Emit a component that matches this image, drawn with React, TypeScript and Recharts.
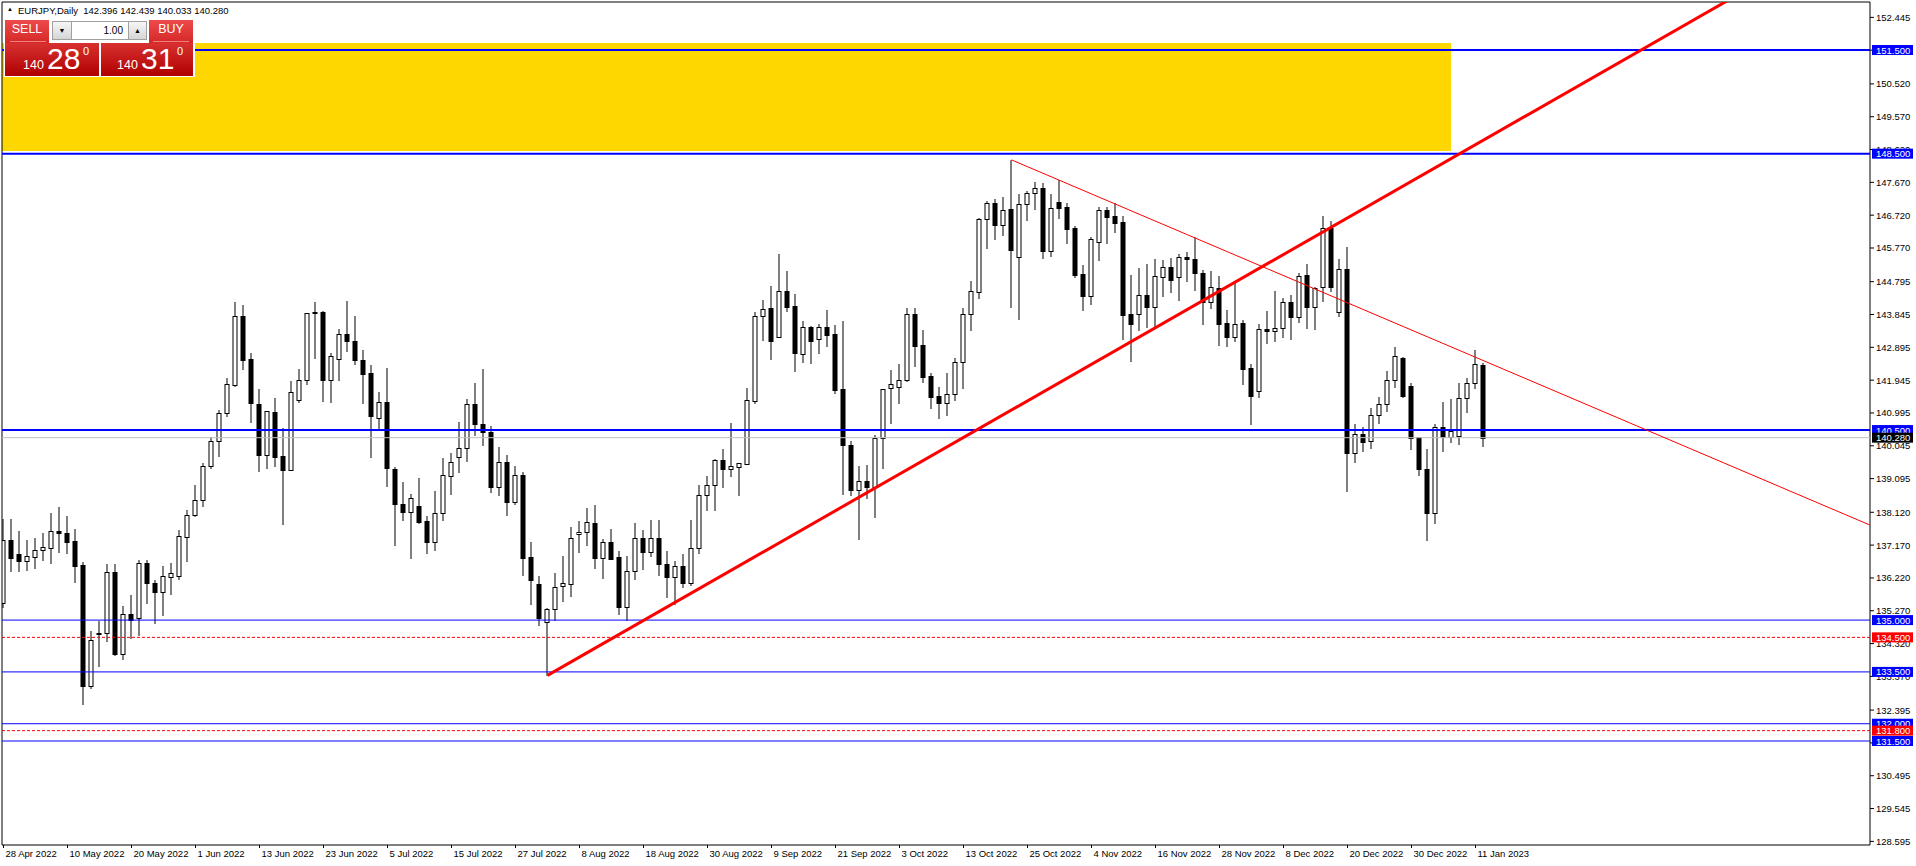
import React from "react";
import {
  ComposedChart,
  Bar,
  XAxis,
  YAxis,
  ReferenceLine,
  ReferenceArea,
} from "recharts";

// EURJPY daily candles, 28 Apr 2022 .. 12 Jan 2023 (index 0 = 28 Apr 2022)
const OPEN = [
  135.5, 137.31, 136.91, 136.72, 136.83, 137.04, 137.1, 137.57, 137.53, 137.28,
  136.59, 133.1, 134.62, 134.64, 136.38, 134.01, 135.19, 135.05, 136.64, 136.06,
  135.82, 136.25, 136.28, 137.41, 138.03, 138.48, 139.47, 140.19, 140.98, 141.8,
  143.8, 142.55, 141.25, 139.79, 141.01, 139.75, 139.35, 141.36, 141.94, 143.88,
  143.93, 141.96, 142.57, 143.27, 143.09, 142.54, 142.14, 140.84, 141.3, 139.36,
  138.35, 138.13, 138.3, 137.86, 137.27, 138.09, 139.18, 139.73, 139.99, 141.24,
  140.69, 140.44, 138.86, 139.59, 138.43, 139.2, 136.82, 136.03, 134.95, 135.31,
  135.98, 136.03, 137.48, 137.54, 137.81, 136.81, 137.26, 136.82, 135.39, 136.41,
  137.39, 136.98, 137.39, 136.61, 136.26, 136.57, 136.08, 137.08, 138.61, 138.9,
  139.63, 139.36, 139.42, 139.52, 141.35, 143.81, 144.02, 143.18, 144.52, 144.09,
  142.69, 143.47, 143.15, 143.47, 143.27, 141.68, 140.08, 138.76, 139.02, 138.84,
  140.26, 141.71, 141.76, 141.95, 143.86, 142.96, 142.06, 141.49, 141.29, 141.53,
  142.46, 143.86, 144.49, 146.61, 147.07, 146.44, 146.89, 145.52, 147.03, 147.35,
  147.5, 145.69, 147.09, 146.95, 146.34, 145.01, 144.39, 145.95, 146.87, 146.7,
  146.52, 143.86, 143.87, 144.41, 144.07, 144.92, 145.21, 144.92, 145.5, 145.45,
  145.06, 144.22, 144.6, 143.6, 143.2, 143.6, 142.3, 141.64, 143.42, 143.37,
  143.44, 144.2, 143.76, 144.98, 144.05, 144.63, 146.34, 143.91, 145.15, 139.85,
  140.38, 140.18, 140.95, 141.24, 141.94, 142.6, 141.77, 140.29, 139.37, 138.09,
  140.58, 140.31, 140.34, 141.42, 141.85, 142.396,
];
const HIGH = [
  137.94, 137.92, 137.57, 137.31, 137.38, 137.53, 138.1, 138.27, 138.01, 137.63,
  136.69, 134.68, 134.98, 136.62, 136.62, 135.4, 135.72, 136.73, 136.73, 136.16,
  136.56, 136.64, 137.6, 138.18, 138.91, 139.55, 140.3, 141.08, 142.01, 144.2,
  144.12, 142.72, 141.7, 141.06, 141.42, 140.56, 141.92, 142.28, 143.9, 144.2,
  143.95, 142.72, 143.42, 144.23, 143.8, 142.81, 142.38, 141.59, 142.31, 139.42,
  138.99, 138.64, 139.1, 138.01, 138.73, 139.69, 139.83, 140.73, 141.4, 141.86,
  142.26, 140.63, 140.02, 139.78, 139.46, 139.28, 137.26, 136.28, 135.36, 136.35,
  136.85, 137.7, 137.87, 138.24, 138.33, 137.34, 137.65, 137.0, 136.85, 137.81,
  137.61, 137.9, 137.9, 137.0, 136.71, 136.91, 137.9, 138.91, 139.17, 139.65,
  139.94, 140.71, 139.56, 141.71, 143.93, 144.26, 144.67, 145.6, 145.1, 144.44,
  143.66, 143.5, 143.57, 143.97, 143.54, 143.66, 140.18, 139.46, 139.49, 140.36,
  141.7, 142.24, 142.41, 144.02, 144.02, 143.4, 142.14, 141.74, 142.16, 142.58,
  144.04, 144.81, 146.65, 147.13, 147.18, 147.24, 148.32, 147.32, 147.42, 147.67,
  147.64, 147.32, 147.74, 147.06, 146.41, 145.28, 146.1, 146.97, 146.97, 147.06,
  146.7, 144.99, 145.2, 145.31, 145.45, 145.42, 145.49, 145.59, 145.64, 146.08,
  145.13, 145.1, 144.96, 143.97, 144.77, 143.69, 142.41, 143.57, 143.94, 144.53,
  144.31, 144.41, 145.06, 145.31, 144.65, 146.69, 146.55, 145.45, 145.8, 140.69,
  140.58, 141.13, 141.47, 142.21, 142.91, 142.62, 141.85, 140.3, 139.95, 140.69,
  141.32, 141.4, 141.87, 142.0, 142.82, 142.439,
];
const LOW = [
  135.38, 136.43, 136.43, 136.46, 136.52, 136.75, 136.66, 136.98, 136.95, 136.11,
  132.57, 133.02, 133.68, 134.4, 133.99, 133.86, 134.47, 134.56, 135.5, 134.92,
  135.14, 135.75, 136.2, 136.7, 138.01, 138.3, 139.41, 139.75, 140.91, 141.78,
  142.27, 140.74, 139.32, 139.41, 139.47, 137.79, 139.35, 141.32, 141.84, 142.58,
  141.35, 141.32, 141.96, 142.79, 142.42, 141.29, 139.73, 140.5, 138.89, 137.17,
  137.91, 136.8, 137.81, 136.95, 137.02, 137.89, 138.65, 139.28, 139.6, 140.36,
  140.06, 138.71, 138.62, 138.04, 138.36, 136.3, 135.46, 134.85, 133.4, 135.0,
  135.56, 135.7, 136.98, 137.17, 136.52, 136.23, 136.76, 135.17, 135.0, 136.2,
  136.49, 136.86, 136.3, 135.66, 135.48, 135.95, 136.01, 136.95, 138.19, 138.19,
  138.86, 139.18, 138.62, 139.52, 141.29, 143.11, 142.56, 143.18, 143.96, 142.22,
  142.48, 142.45, 142.74, 142.94, 141.56, 138.64, 138.61, 137.34, 138.54, 137.99,
  139.39, 140.71, 141.29, 141.93, 142.36, 141.9, 141.13, 140.84, 140.95, 141.37,
  141.71, 143.4, 144.31, 145.78, 146.02, 146.15, 144.07, 143.71, 146.58, 146.9,
  145.49, 145.55, 146.65, 145.92, 144.94, 143.97, 144.15, 145.42, 145.92, 146.24,
  143.13, 142.51, 143.4, 143.49, 143.49, 144.39, 144.49, 144.26, 144.81, 144.55,
  143.57, 144.02, 142.96, 142.93, 143.09, 141.83, 140.67, 141.46, 143.03, 143.09,
  143.18, 143.13, 143.64, 143.46, 143.42, 144.24, 144.53, 143.81, 138.75, 139.58,
  139.9, 139.99, 140.71, 141.06, 141.76, 141.47, 139.94, 139.2, 137.32, 137.8,
  139.9, 140.16, 140.1, 141.01, 141.73, 140.033,
];
const CLOSE = [
  137.31, 136.81, 136.72, 136.85, 137.04, 137.11, 137.57, 137.53, 137.27, 136.57,
  133.1, 134.42, 134.6, 136.38, 134.01, 135.19, 135.0, 136.64, 136.06, 135.82,
  136.27, 136.35, 137.43, 138.03, 138.49, 139.47, 140.17, 140.98, 141.82, 143.8,
  142.54, 141.27, 139.79, 141.04, 139.73, 139.35, 141.59, 141.95, 143.88, 143.93,
  141.96, 142.63, 143.27, 143.08, 142.53, 142.13, 140.91, 141.3, 139.39, 138.35,
  138.13, 138.52, 137.84, 137.27, 138.09, 139.19, 139.59, 139.99, 141.24, 140.68,
  140.43, 138.84, 139.59, 138.43, 139.2, 136.81, 136.17, 135.05, 135.32, 135.97,
  136.06, 137.39, 137.54, 137.83, 136.81, 137.25, 136.78, 135.39, 136.41, 137.39,
  136.98, 137.39, 136.61, 136.26, 136.57, 136.08, 137.08, 138.62, 138.91, 139.63,
  139.36, 139.47, 139.54, 141.37, 143.81, 143.99, 143.08, 144.52, 144.07, 142.72,
  143.47, 143.08, 143.47, 143.26, 141.67, 140.08, 138.77, 139.02, 138.84, 140.26,
  141.68, 141.82, 141.95, 143.86, 142.94, 142.05, 141.47, 141.29, 141.53, 142.46,
  143.86, 144.52, 146.61, 147.07, 146.44, 146.87, 145.7, 147.03, 147.35, 147.5,
  145.69, 146.92, 146.94, 146.33, 144.99, 144.39, 146.03, 146.87, 146.68, 146.5,
  143.84, 143.56, 144.41, 144.07, 144.96, 145.21, 144.84, 145.5, 145.44, 145.06,
  144.2, 144.63, 143.58, 143.2, 143.57, 142.28, 141.5, 143.42, 143.37, 143.44,
  144.2, 143.78, 144.97, 144.07, 144.62, 146.34, 144.65, 145.15, 139.85, 140.38,
  140.16, 140.95, 141.24, 141.94, 142.64, 141.49, 140.26, 139.36, 138.09, 140.58,
  140.31, 140.47, 141.42, 141.85, 142.4, 140.28,
];

// one date label every 8 bars
const X_LABELS = [
  "28 Apr 2022", "10 May 2022", "20 May 2022", "1 Jun 2022", "13 Jun 2022",
  "23 Jun 2022", "5 Jul 2022", "15 Jul 2022", "27 Jul 2022", "8 Aug 2022",
  "18 Aug 2022", "30 Aug 2022", "9 Sep 2022", "21 Sep 2022", "3 Oct 2022",
  "13 Oct 2022", "25 Oct 2022", "4 Nov 2022", "16 Nov 2022", "28 Nov 2022",
  "8 Dec 2022", "20 Dec 2022", "30 Dec 2022", "11 Jan 2023",
];
const Y_TICKS = [
  152.445, 151.495, 150.52, 149.57, 148.62, 147.67, 146.72, 145.77, 144.795,
  143.845, 142.895, 141.945, 140.995, 140.045, 139.095, 138.12, 137.17, 136.22,
  135.27, 134.32, 133.37, 132.395, 131.445, 130.495, 129.545, 128.595,
];

// objects drawn on the chart
const BLUE_THICK_LEVELS = [151.5, 148.5, 140.5];
const BLUE_THIN_LEVELS = [135.0, 133.5, 132.0, 131.5];
const RED_DASHED_LEVELS = [134.5, 131.8];
const BID = 140.28;
const ZONE = { x2: 180.94, y1: 148.58, y2: 151.7 };
const TREND_UP = [
  [68, 133.4],
  [215.2, 152.89],
];
const TREND_DOWN = [
  [126, 148.32],
  [233.31, 137.75],
];

const X_MIN = -0.1875;
const X_MAX = 233.3125;
const Y_MIN = 128.49;
const Y_MAX = 152.89;
const X_TICKS = X_LABELS.map((_, k) => k * 8);

const FONT = '"Liberation Sans", Arial, sans-serif';
const W = 1916;
const H = 866;
const MARGIN = { top: 2, right: 0, bottom: 0, left: 2 };

const candles = OPEN.map((o, i) => ({
  i,
  o,
  h: HIGH[i],
  l: LOW[i],
  c: CLOSE[i],
  range: [LOW[i], HIGH[i]],
}));

// trendline rays: run the line on to the right edge of the chart
function extend(seg: number[][]) {
  const [[x1, y1], [x2, y2]] = seg;
  const k = (y2 - y1) / (x2 - x1);
  return [
    { x: x1, y: y1 },
    { x: X_MAX, y: y1 + k * (X_MAX - x1) },
  ];
}

function Candle(props: any) {
  const { x, y, width, height, payload } = props;
  if (x == null || !payload) return null;
  const cx = x + width / 2;
  const top = Math.min(y, y + height);
  const h = Math.abs(height);
  const { o, h: hi, l: lo, c } = payload;
  const py = (p: number) => top + ((hi - p) / (hi - lo)) * h;
  const bull = c >= o;
  const bTop = Math.round(Math.min(py(o), py(c))) + 0.5;
  const bBot = Math.round(Math.max(py(o), py(c))) + 0.5;
  return (
    <g>
      <line x1={cx} x2={cx} y1={Math.round(top)} y2={Math.round(top + h) + 1} stroke="#000" />
      {bBot - bTop < 1 ? (
        <line x1={cx - 2.5} x2={cx + 2.5} y1={bTop} y2={bTop} stroke="#000" />
      ) : (
        <rect
          x={cx - 2}
          y={bTop}
          width={4}
          height={bBot - bTop}
          fill={bull ? "#fff" : "#000"}
          stroke="#000"
        />
      )}
    </g>
  );
}

function PriceBox(props: any) {
  const { viewBox, price, bg } = props;
  if (!viewBox) return null;
  const bx = viewBox.x + viewBox.width + 2;
  const cy = viewBox.y;
  return (
    <g>
      <rect x={bx} y={cy - 5} width={41} height={10} fill={bg} />
      <text x={bx + 4} y={cy + 3.5} fontSize={9.5} fontFamily={FONT} fill="#fff">
        {price.toFixed(3)}
      </text>
    </g>
  );
}

function DateTick(props: any) {
  const { x, y, payload } = props;
  return (
    <text x={x + 2} y={y + 7} fontSize={9.5} fontFamily={FONT} fill="#000">
      {X_LABELS[Math.round(payload.value / 8)]}
    </text>
  );
}

function PriceTick(props: any) {
  const { x, y, payload } = props;
  return (
    <text x={x} y={y + 3.5} fontSize={9.5} fontFamily={FONT} fill="#000">
      {payload.value.toFixed(3)}
    </text>
  );
}

function TradePanel() {
  const red = "linear-gradient(#ee4a4a, #c81818 60%, #b00000)";
  const abs = (s: React.CSSProperties): React.CSSProperties => ({
    position: "absolute",
    ...s,
  });
  const btn: React.CSSProperties = {
    background: "linear-gradient(#f6f6f6, #d6d6d6)",
    border: "1px solid #a0a0a0",
    boxSizing: "border-box",
    fontSize: 7,
    textAlign: "center",
    lineHeight: "17px",
    color: "#000",
  };
  const priceBlock = (left: number, big: string) => (
    <>
      <div style={abs({ left: left + 17, top: 59, fontSize: 12.5, lineHeight: "13px", color: "#fff" })}>
        140
      </div>
      <div style={abs({ left: left + 41, top: 43, fontSize: 30, lineHeight: "32px", color: "#fff" })}>
        {big}
      </div>
      <div style={abs({ left: left + 77, top: 45, fontSize: 11, lineHeight: "12px", color: "#fff" })}>
        0
      </div>
    </>
  );
  return (
    <div style={abs({ left: 0, top: 0, width: 200, height: 80, fontFamily: FONT })}>
      <div style={abs({ left: 7, top: 6, fontSize: 6 })}>▲</div>
      <div style={abs({ left: 18, top: 5, fontSize: 9.5, whiteSpace: "pre" })}>
        {"EURJPY,Daily  142.396 142.439 140.033 140.280"}
      </div>
      <div style={abs({ left: 4, top: 19, width: 191, height: 58, background: "#fff" })} />
      <div style={abs({ left: 5, top: 20, width: 44, height: 56, background: red })} />
      <div style={abs({ left: 5, top: 43, width: 94, height: 33, background: "linear-gradient(#d83030, #b00000)" })} />
      <div style={abs({ left: 149, top: 20, width: 44, height: 56, background: red })} />
      <div style={abs({ left: 101, top: 43, width: 92, height: 33, background: "linear-gradient(#d83030, #b00000)" })} />
      <div style={abs({ left: 5, top: 22, width: 44, fontSize: 12.5, textAlign: "center", color: "#fff" })}>
        SELL
      </div>
      <div style={abs({ left: 10, top: 41, width: 36, height: 1, background: "#f08080" })} />
      <div style={abs({ left: 149, top: 22, width: 44, fontSize: 12.5, textAlign: "center", color: "#fff" })}>
        BUY
      </div>
      <div style={abs({ left: 153, top: 41, width: 36, height: 1, background: "#f08080" })} />
      <div style={abs({ left: 52, top: 21, width: 20, height: 19, ...btn })}>▼</div>
      <div
        style={abs({
          left: 71,
          top: 21,
          width: 58,
          height: 19,
          border: "1px solid #a0a0a0",
          boxSizing: "border-box",
          background: "#fff",
          fontSize: 10,
          lineHeight: "17px",
          textAlign: "right",
          paddingRight: 5,
        })}
      >
        1.00
      </div>
      <div style={abs({ left: 128, top: 21, width: 19, height: 19, ...btn })}>▲</div>
      {priceBlock(6, "28")}
      {priceBlock(100, "31")}
    </div>
  );
}

export default function App() {
  // the overlay chart uses invisible axes of the same size, so its plot area
  // lines up with the main chart and its price boxes sit above the tick labels
  const ghostX = (
    <XAxis
      dataKey="i"
      type="number"
      domain={[X_MIN, X_MAX]}
      allowDataOverflow
      height={21}
      axisLine={false}
      tickLine={false}
      tick={false}
    />
  );
  const ghostY = (
    <YAxis
      orientation="right"
      type="number"
      domain={[Y_MIN, Y_MAX]}
      allowDataOverflow
      width={46}
      axisLine={false}
      tickLine={false}
      tick={false}
    />
  );
  return (
    <div
      style={{
        position: "absolute",
        left: 0,
        top: 0,
        width: W,
        height: H,
        background: "#fff",
        fontFamily: FONT,
      }}
    >
      <div style={{ position: "absolute", left: 0, top: 0 }}>
        <ComposedChart width={W} height={H} data={candles} margin={MARGIN}>
          <XAxis
            dataKey="i"
            type="number"
            domain={[X_MIN, X_MAX]}
            allowDataOverflow
            ticks={X_TICKS}
            interval={0}
            height={21}
            tickSize={3}
            axisLine={{ stroke: "#000" }}
            tickLine={{ stroke: "#000" }}
            tick={<DateTick />}
          />
          <YAxis
            orientation="right"
            type="number"
            domain={[Y_MIN, Y_MAX]}
            allowDataOverflow
            ticks={Y_TICKS}
            interval={0}
            width={46}
            tickSize={4}
            tickMargin={2}
            axisLine={{ stroke: "#000" }}
            tickLine={{ stroke: "#000" }}
            tick={<PriceTick />}
          />
          <ReferenceArea
            x1={X_MIN}
            x2={ZONE.x2}
            y1={ZONE.y1}
            y2={ZONE.y2}
            fill="#FFD700"
            fillOpacity={1}
            stroke="none"
          />
          <ReferenceLine x={X_MIN} stroke="#000" />
          <ReferenceLine y={Y_MAX} stroke="#000" />
          <Bar
            dataKey="range"
            barSize={5}
            shape={<Candle />}
            isAnimationActive={false}
          />
        </ComposedChart>
      </div>
      <div style={{ position: "absolute", left: 0, top: 0, pointerEvents: "none" }}>
        <ComposedChart width={W} height={H} data={candles} margin={MARGIN}>
          {ghostX}
          {ghostY}
          <ReferenceLine y={BID} stroke="#c0c0c0" />
          {BLUE_THICK_LEVELS.map((v) => (
            <ReferenceLine
              key={v}
              y={v}
              stroke="#0000ff"
              strokeWidth={2}
              label={<PriceBox price={v} bg="#0000ff" />}
            />
          ))}
          {BLUE_THIN_LEVELS.map((v) => (
            <ReferenceLine
              key={v}
              y={v}
              stroke="#0000ff"
              strokeWidth={1}
              label={<PriceBox price={v} bg="#0000ff" />}
            />
          ))}
          {RED_DASHED_LEVELS.map((v) => (
            <ReferenceLine
              key={v}
              y={v}
              stroke="#ff0000"
              strokeDasharray="3 2"
              label={<PriceBox price={v} bg="#ff0000" />}
            />
          ))}
          <ReferenceLine
            y={BID}
            stroke="none"
            label={<PriceBox price={BID} bg="#000" />}
          />
          <ReferenceLine
            segment={extend(TREND_UP)}
            stroke="#ff0000"
            strokeWidth={3}
            ifOverflow="hidden"
          />
          <ReferenceLine
            segment={extend(TREND_DOWN)}
            stroke="#ff0000"
            strokeWidth={1}
            ifOverflow="hidden"
          />
        </ComposedChart>
      </div>
      <TradePanel />
    </div>
  );
}
